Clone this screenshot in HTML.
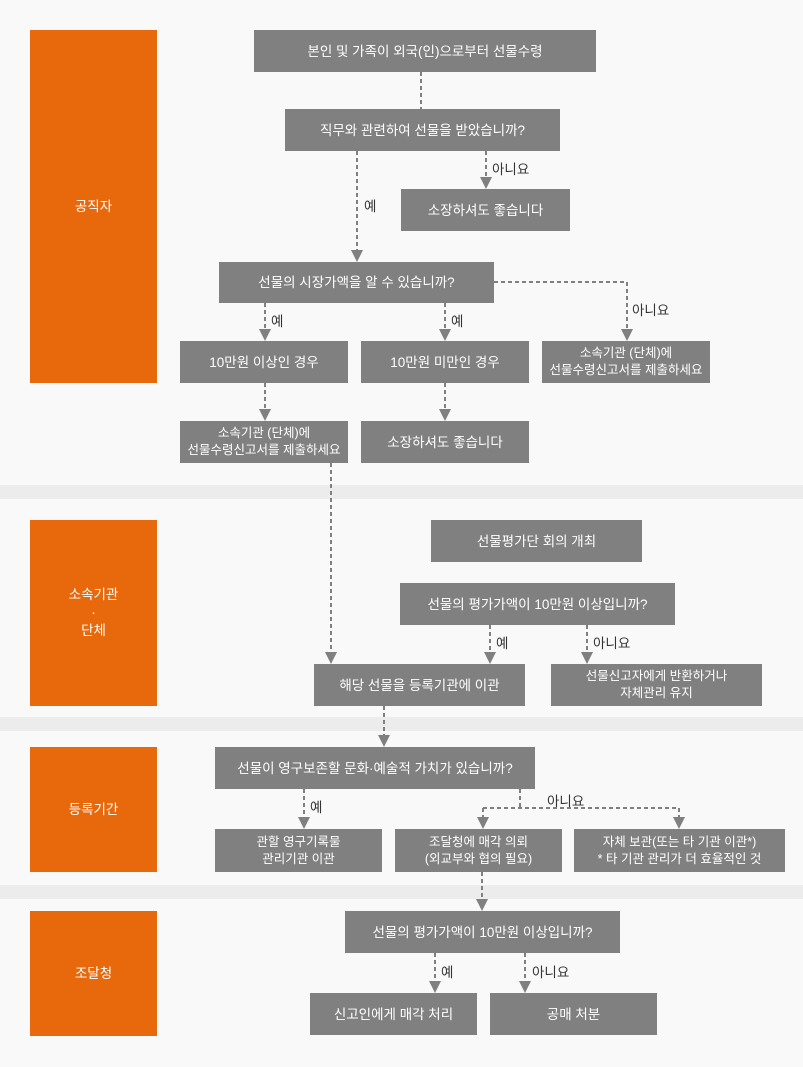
<!DOCTYPE html>
<html><head><meta charset="utf-8"><style>
body{margin:0;width:803px;height:1067px;background:#f9f9f9;position:relative;overflow:hidden;font-family:"Liberation Sans","Noto Sans CJK KR",sans-serif}
.band{position:absolute;left:0;width:803px;height:14px;background:#ececec}
.o{position:absolute;left:30px;width:127px;background:#e8690c;color:#fff;font-size:13.5px;display:flex;align-items:center;justify-content:center;text-align:center;line-height:18px}
.b{position:absolute;background:#808080;color:#fff;font-size:13.5px;display:flex;align-items:center;justify-content:center;text-align:center;line-height:17px}
.s{font-size:12.5px;line-height:17px}
.l{position:absolute;font-size:13.5px;color:#333}
svg{position:absolute;left:0;top:0}
</style></head><body>
<div class="band" style="top:485px"></div>
<div class="band" style="top:717px"></div>
<div class="band" style="top:885px"></div>
<div class="o" style="top:30px;height:353px">공직자</div>
<div class="o" style="top:520px;height:186px">소속기관<br>·<br>단체</div>
<div class="o" style="top:747px;height:125px">등록기간</div>
<div class="o" style="top:911px;height:125px">조달청</div>

<div class="b" style="left:254px;top:30px;width:342px;height:42px">본인 및 가족이 외국(인)으로부터 선물수령</div>
<div class="b" style="left:285px;top:109px;width:275px;height:42px">직무와 관련하여 선물을 받았습니까?</div>
<div class="b" style="left:401px;top:189px;width:169px;height:42px">소장하셔도 좋습니다</div>
<div class="b" style="left:219px;top:262px;width:275px;height:41px">선물의 시장가액을 알 수 있습니까?</div>
<div class="b" style="left:180px;top:341px;width:168px;height:42px">10만원 이상인 경우</div>
<div class="b" style="left:361px;top:341px;width:168px;height:42px">10만원 미만인 경우</div>
<div class="b s" style="left:542px;top:341px;width:168px;height:42px">소속기관 (단체)에<br>선물수령신고서를 제출하세요</div>
<div class="b s" style="left:180px;top:421px;width:168px;height:42px">소속기관 (단체)에<br>선물수령신고서를 제출하세요</div>
<div class="b" style="left:361px;top:421px;width:168px;height:42px">소장하셔도 좋습니다</div>
<div class="b" style="left:431px;top:520px;width:211px;height:42px">선물평가단 회의 개최</div>
<div class="b" style="left:400px;top:583px;width:275px;height:42px">선물의 평가가액이 10만원 이상입니까?</div>
<div class="b" style="left:314px;top:664px;width:211px;height:42px">해당 선물을 등록기관에 이관</div>
<div class="b s" style="left:551px;top:664px;width:211px;height:42px">선물신고자에게 반환하거나<br>자체관리 유지</div>
<div class="b" style="left:215px;top:747px;width:320px;height:42px">선물이 영구보존할 문화·예술적 가치가 있습니까?</div>
<div class="b s" style="left:215px;top:829px;width:167px;height:43px">관할 영구기록물<br>관리기관 이관</div>
<div class="b s" style="left:395px;top:829px;width:167px;height:43px">조달청에 매각 의뢰<br>(외교부와 협의 필요)</div>
<div class="b s" style="left:574px;top:829px;width:211px;height:43px">자체 보관(또는 타 기관 이관*)<br>* 타 기관 관리가 더 효율적인 것</div>
<div class="b" style="left:345px;top:911px;width:275px;height:42px">선물의 평가가액이 10만원 이상입니까?</div>
<div class="b" style="left:310px;top:993px;width:167px;height:42px">신고인에게 매각 처리</div>
<div class="b" style="left:490px;top:993px;width:167px;height:42px">공매 처분</div>

<div class="l" style="left:364px;top:195px">예</div>
<div class="l" style="left:492px;top:158px">아니요</div>
<div class="l" style="left:271px;top:310px">예</div>
<div class="l" style="left:451px;top:310px">예</div>
<div class="l" style="left:632px;top:299px">아니요</div>
<div class="l" style="left:496px;top:632px">예</div>
<div class="l" style="left:593px;top:632px">아니요</div>
<div class="l" style="left:310px;top:796px">예</div>
<div class="l" style="left:547px;top:790px">아니요</div>
<div class="l" style="left:441px;top:961px">예</div>
<div class="l" style="left:532px;top:961px">아니요</div>

<svg width="803" height="1067">
<g stroke="#808080" stroke-width="2" stroke-dasharray="4,3" fill="none">
<path d="M421 72V109"/>
<path d="M357 151V252"/>
<path d="M486 151V179"/>
<path d="M265 303V331"/>
<path d="M445 303V331"/>
<path d="M494 282H627V331"/>
<path d="M265 383V411"/>
<path d="M445 383V411"/>
<path d="M331 463V654"/>
<path d="M490 625V654"/>
<path d="M587 625V654"/>
<path d="M384 706V737"/>
<path d="M304 789V819"/>
<path d="M520 789V808M483 808H679M483 808V819M679 808V819"/>
<path d="M482 872V901"/>
<path d="M435 953V983"/>
<path d="M525 953V983"/>
</g>
<g fill="#808080">
<path d="M351 250h12l-6 12z"/>
<path d="M480 177h12l-6 12z"/>
<path d="M259 329h12l-6 12z"/>
<path d="M439 329h12l-6 12z"/>
<path d="M621 329h12l-6 12z"/>
<path d="M259 409h12l-6 12z"/>
<path d="M439 409h12l-6 12z"/>
<path d="M325 652h12l-6 12z"/>
<path d="M484 652h12l-6 12z"/>
<path d="M581 652h12l-6 12z"/>
<path d="M378 735h12l-6 12z"/>
<path d="M298 817h12l-6 12z"/>
<path d="M477 817h12l-6 12z"/>
<path d="M673 817h12l-6 12z"/>
<path d="M476 899h12l-6 12z"/>
<path d="M429 981h12l-6 12z"/>
<path d="M519 981h12l-6 12z"/>
</g>
</svg>
</body></html>
